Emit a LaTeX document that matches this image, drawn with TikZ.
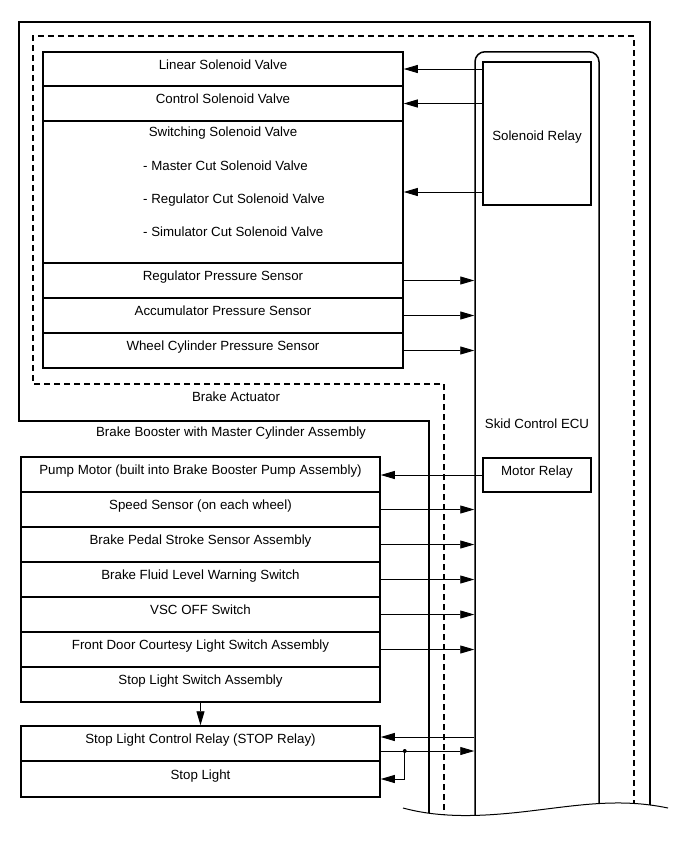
\documentclass[tikz,border=0pt]{standalone}
\usepackage{fontspec}
\setmainfont{Liberation Sans}
\usetikzlibrary{arrows.meta}

\begin{document}
\begin{tikzpicture}[x=1pt, y=-1pt,
    txt/.style={font=\fontsize{13.3}{16}\selectfont, inner sep=0pt},
    box/.style={draw, line width=1.5pt, txt, text height=9pt, text depth=9pt},
    ubox/.style={box, minimum width=360, minimum height=35},
    lbox/.style={box, minimum width=359, minimum height=35},
    frame/.style={line width=1.5pt},
    arr/.style={-{Triangle[length=14pt, width=8pt]}, line width=0.9pt},
]
  \useasboundingbox (0,0) rectangle (690,855);

  \begin{scope}
  \clip (0,0) -- (690,0) -- (690,808) -- (668,808)
    .. controls (620,798) and (580,805) .. (530,811)
    .. controls (480,817) and (440,818) .. (403,808) -- (0,808) -- cycle;

  % === Frames ===
  \draw[frame] (429,840) -- (429,421) -- (19,421) -- (19,22) -- (650,22) -- (650,840);
  \draw[frame, dash pattern=on 6pt off 4pt] (444,840) -- (444,384) -- (33,384) -- (33,36) -- (634,36) -- (634,840);

  % === Skid Control ECU ===
  \node[draw, line width=1.5pt, rounded corners=10pt, minimum width=124, minimum height=800, anchor=north] (ecu) at (537,51) {};
  \end{scope}

  \node[txt] (actuator_lbl) at (236,397) {Brake Actuator};
  \node[txt] (booster_lbl) at (231,433) {Brake Booster with Master Cylinder Assembly};
  \node[txt] (ecu_lbl) at (537,424) {Skid Control ECU};

  \node[draw, line width=1.5pt, txt, text height=13pt, text depth=0pt, minimum width=108, minimum height=143] (solrelay) at (537,133.5) {Solenoid Relay};
  \node[box, minimum width=108, minimum height=34] (motor) at (537,475) {Motor Relay};

  % === Brake Actuator parts ===
  \node[ubox, minimum height=34] (linear) at (223,69) {Linear Solenoid Valve};
  \node[ubox] (control) at (223,103.5) {Control Solenoid Valve};
  \node[ubox, minimum height=142] (switching) at (223,192) {};
  \node[txt] (switching_t) at (223,133) {Switching Solenoid Valve};
  \node[txt, anchor=north west, align=left, font=\fontsize{13.3}{33}\selectfont] (switching_l) at (143,161)
    {- Master Cut Solenoid Valve\\- Regulator Cut Solenoid Valve\\- Simulator Cut Solenoid Valve};
  \node[ubox] (regsens) at (223,280.5) {Regulator Pressure Sensor};
  \node[ubox] (accsens) at (223,315.5) {Accumulator Pressure Sensor};
  \node[ubox] (wheelsens) at (223,350.5) {Wheel Cylinder Pressure Sensor};

  % === Brake Booster parts ===
  \node[lbox] (pump) at (200.5,474.5) {Pump Motor (built into Brake Booster Pump Assembly)};
  \node[lbox] (speed) at (200.5,509.5) {Speed Sensor (on each wheel)};
  \node[lbox] (pedal) at (200.5,544.5) {Brake Pedal Stroke Sensor Assembly};
  \node[lbox] (fluid) at (200.5,579.5) {Brake Fluid Level Warning Switch};
  \node[lbox] (vsc) at (200.5,614.5) {VSC OFF Switch};
  \node[lbox] (door) at (200.5,649.5) {Front Door Courtesy Light Switch Assembly};
  \node[lbox] (stopsw) at (200.5,684.5) {Stop Light Switch Assembly};
  \node[lbox] (relay) at (200.5,743.5) {Stop Light Control Relay (STOP Relay)};
  \node[lbox, minimum height=36] (stoplight) at (200.5,779) {Stop Light};

  % === Arrows ===
  \draw[arr] (solrelay.west |- linear.east) -- (linear.east);
  \draw[arr] (solrelay.west |- control.east) -- (control.east);
  \draw[arr] (solrelay.west |- switching.east) -- (switching.east);
  \draw[arr] (regsens.east) -- (regsens.east -| ecu.west);
  \draw[arr] (accsens.east) -- (accsens.east -| ecu.west);
  \draw[arr] (wheelsens.east) -- (wheelsens.east -| ecu.west);
  \draw[arr] (motor.west) -- (motor.west -| pump.east);
  \draw[arr] (speed.east) -- (speed.east -| ecu.west);
  \draw[arr] (pedal.east) -- (pedal.east -| ecu.west);
  \draw[arr] (fluid.east) -- (fluid.east -| ecu.west);
  \draw[arr] (vsc.east) -- (vsc.east -| ecu.west);
  \draw[arr] (door.east) -- (door.east -| ecu.west);
  \draw[arr] (stopsw.south) -- (relay.north);
  \coordinate (relay_a) at ([yshift=6.5pt]relay.east);
  \coordinate (relay_b) at ([yshift=-7.5pt]relay.east);
  \coordinate (split) at ([xshift=24pt]relay_b);
  \draw[arr] (relay_a -| ecu.west) -- (relay_a);
  \draw[arr] (relay_b) -- (relay_b -| ecu.west);
  \fill (split) circle (2pt);
  \draw[arr] (split) |- (stoplight.east);

  % === Cut edge ===
  \draw[line width=1pt] (403,808) .. controls (440,818) and (480,817) .. (530,811)
    .. controls (580,805) and (620,798) .. (668,808);
\end{tikzpicture}
\end{document}
